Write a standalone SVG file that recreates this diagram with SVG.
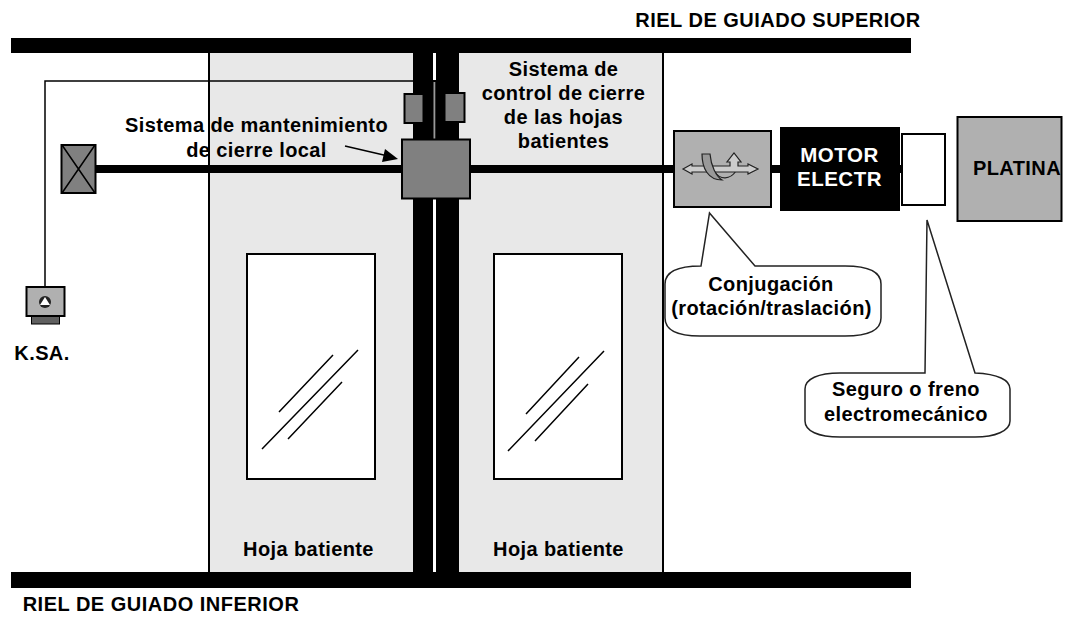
<svg xmlns="http://www.w3.org/2000/svg" width="1076" height="618" viewBox="0 0 1076 618">
<style>
text{font-family:"Liberation Sans",Arial,sans-serif;font-weight:bold;font-size:20px;letter-spacing:.4px;fill:#000;text-anchor:middle}
.b{fill:#000}
.leaf{fill:#e8e8e8;stroke:#000;stroke-width:2}
.g{fill:#808080;stroke:#000;stroke-width:2}
.lg{fill:#b0b0b0;stroke:#000;stroke-width:2}
.w{fill:#fff;stroke:#000;stroke-width:2}
.l{fill:none;stroke:#000;stroke-width:1.5}
.c{fill:#fff;stroke:#222;stroke-width:1.5}
.m{fill:#fff;font-size:20.5px;letter-spacing:.5px}
</style>
<rect width="1076" height="618" fill="#fff"/>
<g id="hoja-izq">
<rect class="leaf" x="209" y="50" width="206" height="523"/>
<rect class="w" x="247" y="254" width="128" height="225"/>
<path class="l" d="M279 412L333 355M262 449L358 350M288 439L342 382"/>
<text x="308.500" y="556">Hoja batiente</text>
</g>
<g id="hoja-der">
<rect class="leaf" x="458" y="50" width="205" height="523"/>
<rect class="w" x="494" y="254" width="128" height="225"/>
<path class="l" d="M526 414L579 357M508 451L604 351M535 441L588 384"/>
<text x="558.500" y="556">Hoja batiente</text>
</g>
<g id="rieles">
<rect class="b" x="11" y="38" width="900" height="15"/>
<rect class="b" x="11" y="572" width="900" height="16"/>
<rect class="b" x="413" y="50" width="20" height="523"/>
<rect class="b" x="436" y="50" width="23" height="523"/>
<rect class="b" x="433" y="80" width="3" height="60"/>
<rect x="433.500" y="82" width="1.800" height="57" fill="#999"/>
<text x="778" y="27" style="letter-spacing:.5px">RIEL DE GUIADO SUPERIOR</text>
<text x="161" y="611" style="letter-spacing:.5px">RIEL DE GUIADO INFERIOR</text>
</g>
<g id="connectors">
<path d="M45 288V81H413" fill="none" stroke="#000" stroke-width="1.5"/>
<rect class="b" x="96" y="165" width="306" height="8"/>
<rect class="b" x="470" y="165" width="204" height="8"/>
<rect class="b" x="770" y="165" width="10" height="8"/>
<rect class="b" x="899" y="165" width="4" height="8"/>
<path d="M345 146L388 156" stroke="#000" stroke-width="1.5" fill="none"/>
<path d="M398 159L385 149L382 162Z" class="b"/>
</g>
<g id="ksa">
<rect x="31.500" y="315" width="28" height="9" fill="#606060" stroke="#000" stroke-width="1"/>
<rect class="lg" x="26.500" y="287" width="38" height="29"/>
<circle cx="45" cy="302" r="6" fill="#222"/>
<path d="M45 297L50 305H40Z" fill="#fff"/>
<text x="42" y="360">K.SA.</text>
</g>
<g id="caja-x">
<rect class="g" x="61.500" y="145" width="34" height="48"/>
<path class="l" d="M62 145L95 193M95 145L62 193"/>
</g>
<g id="guias">
<rect class="g" x="404.500" y="94" width="19" height="29"/>
<rect class="g" x="444.500" y="93" width="20" height="29"/>
</g>
<g id="cierre-local">
<rect class="g" x="402" y="139.500" width="68" height="59"/>
<text x="256.500" y="132">Sistema de mantenimiento</text>
<text x="256.500" y="157">de cierre local</text>
</g>
<g id="control">
<text x="563.500" y="76">Sistema de</text>
<text x="563.500" y="100">control de cierre</text>
<text x="563.500" y="124">de las hojas</text>
<text x="563.500" y="148">batientes</text>
</g>
<g id="conjugacion">
<rect class="lg" x="674" y="131" width="97" height="76"/>
<path d="M715 172C720 180 730 180 736 171" fill="none" stroke="#222" stroke-width="1.200"/>
<path d="M683 169L692 164V166H730V162H727L734 153L741 162H738V166H748V164L758 169L748 174V172H692V174Z" fill="#ccc" stroke="#222" stroke-width="1.200"/>
<path d="M702 154C702 168 708 180 722 180C716 176 711 166 710 154Z" fill="#999" stroke="#222" stroke-width="1.200"/>
</g>
<g id="motor">
<rect class="b" x="780" y="127" width="120" height="84"/>
<text class="m" x="839.500" y="162">MOTOR</text>
<text class="m" x="839.500" y="186">ELECTR</text>
</g>
<g id="freno">
<rect class="w" x="902" y="134" width="43" height="71"/>
</g>
<g id="platina">
<rect class="lg" x="957.500" y="117" width="104" height="104"/>
<text x="1017" y="175">PLATINA</text>
</g>
<g id="callout-conjugacion">
<path class="c" d="M701 266L709.500 213L755 266H845C868 266 881 272 881 284V318C881 330 868 336 845 336H700C678 336 665 330 665 318V284C665 272 678 266 701 266Z"/>
<text x="771" y="291">Conjugación</text>
<text x="771.500" y="315">(rotación/traslación)</text>
</g>
<g id="callout-freno">
<path class="c" d="M925 373L927 220L975 373C998 374 1010 380 1010 389V421C1010 431 995 437 975 437H840C818 437 805 431 805 421V389C805 379 818 373 840 373Z"/>
<text x="906" y="396">Seguro o freno</text>
<text x="906" y="421">electromecánico</text>
</g>
</svg>
